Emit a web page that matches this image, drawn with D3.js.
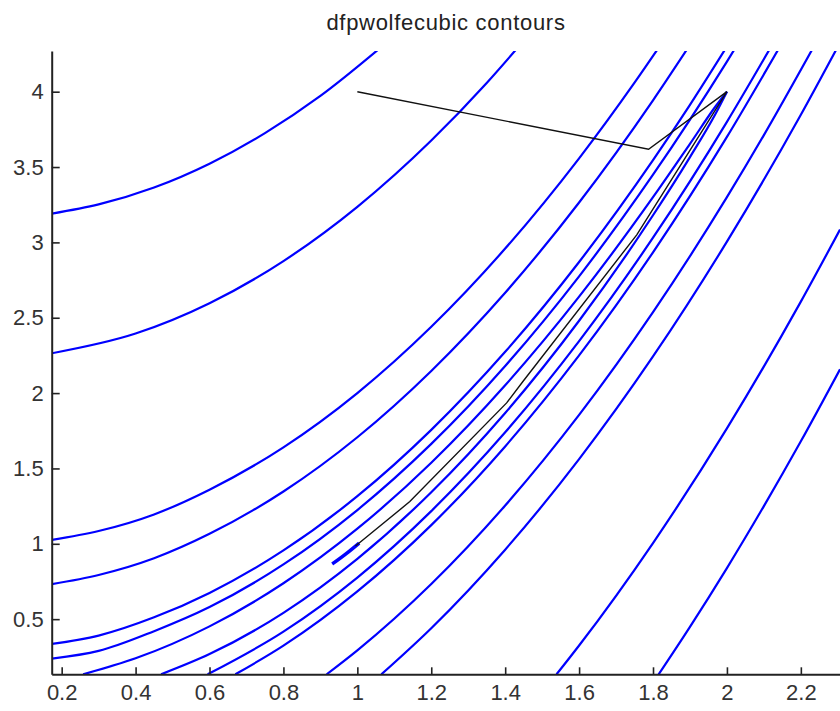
<!DOCTYPE html>
<html>
<head>
<meta charset="utf-8">
<script src="https://cdn.jsdelivr.net/npm/d3@7"></script>
<style>
  body { margin: 0; background: #fff; }
  text { font-family: "Liberation Sans", Arial, sans-serif; }
</style>
</head>
<body>
<svg width="840" height="711"></svg>
<script>
// contour lines, [x, y] in data units
var c1000up = [[0.173,3.191],[0.3,3.252],[0.45,3.364],[0.6,3.522],[0.75,3.725],[0.9,3.972],[1.07,4.307]];
var c500up = [[0.173,2.264],[0.4,2.395],[0.6,2.596],[0.8,2.876],[1.0,3.236],[1.2,3.676],[1.35,4.058],[1.45,4.338]];
var c100up = [[0.173,1.026],[0.3,1.085],[0.45,1.195],[0.6,1.359],[0.8,1.640],[1.0,2.0],[1.2,2.440],[1.4,2.959],[1.6,3.558],[1.75,4.060],[1.83,4.345]];
var c50up = [[0.173,0.732],[0.3,0.793],[0.45,0.904],[0.6,1.066],[0.8,1.347],[1.0,1.707],[1.2,2.147],[1.4,2.666],[1.6,3.265],[1.8,3.943],[1.9,4.311]];
var c10up = [[0.173,0.335],[0.3,0.391],[0.45,0.512],[0.6,0.674],[0.8,0.956],[1.0,1.316],[1.2,1.756],[1.4,2.274],[1.6,2.870],[1.8,3.546],[1.9,3.913],[2.0,4.300]];
var c5up = [[0.173,0.238],[0.3,0.289],[0.45,0.420],[0.6,0.580],[0.8,0.863],[1.0,1.224],[1.2,1.663],[1.4,2.180],[1.6,2.775],[1.8,3.449],[2.0,4.200],[2.03,4.319]];
var c1up = [[0.258,0.134],[0.4,0.240],[0.6,0.452],[0.8,0.738],[1.0,1.100],[1.2,1.538],[1.4,2.052],[1.6,2.640],[1.8,3.300],[1.9,3.654],[1.97,3.905],[2.0,4.0]];
var c1low = [[0.469,0.134],[0.6,0.268],[0.8,0.542],[1.0,0.900],[1.2,1.342],[1.4,1.868],[1.6,2.480],[1.8,3.180],[1.9,3.566],[1.97,3.857],[2.0,4.0]];
var c5low = [[0.595,0.134],[0.8,0.417],[1.0,0.776],[1.2,1.217],[1.4,1.740],[1.6,2.345],[1.8,3.031],[2.0,3.800],[2.12,4.301]];
var c10low = [[0.67,0.134],[0.8,0.324],[1.0,0.684],[1.2,1.124],[1.4,1.646],[1.6,2.250],[1.8,2.934],[2.0,3.700],[2.14,4.285]];
var c50low = [[0.917,0.134],[1.0,0.293],[1.2,0.733],[1.4,1.254],[1.6,1.855],[1.8,2.537],[2.0,3.300],[2.1,3.712],[2.23,4.277]];
var c100low = [[1.065,0.134],[1.2,0.440],[1.4,0.961],[1.6,1.562],[1.8,2.243],[2.0,3.005],[2.2,3.847],[2.306,4.326]];
var c500low = [[1.539,0.134],[1.6,0.325],[1.8,1.005],[2.0,1.766],[2.2,2.607],[2.306,3.085]];
var c1000low = [[1.815,0.133],[1.9,0.449],[2.0,0.839],[2.1,1.250],[2.2,1.680],[2.306,2.158]];
var cMin = [[0.932,0.866],[0.97,0.935],[1.005,1.005]];

// search path
var pathPts = [[1.0,4.0],[1.788,3.618],[2.0,4.0],[1.756,3.05],[1.449,2.08],[1.404,1.935],[1.142,1.28],[0.995,0.985]];

var xTicks = [0.2,0.4,0.6,0.8,1,1.2,1.4,1.6,1.8,2,2.2];
var yTicks = [0.5,1,1.5,2,2.5,3,3.5,4];
var title = 'dfpwolfecubic contours';

var contours = [c1000up,c500up,c100up,c50up,c10up,c5up,c1up,c1low,c5low,c10low,c50low,c100low,c500low,c1000low];

var svg = d3.select('svg');
var x = d3.scaleLinear().domain([0.173,2.333]).range([51.7,850]);
var y = d3.scaleLinear().domain([0.134,4.27]).range([674.3,51]);

svg.append('clipPath').attr('id','clip')
  .append('rect').attr('x',52).attr('y',51).attr('width',800).attr('height',623);

var line = d3.line().x(function(d){ return x(d[0]); }).y(function(d){ return y(d[1]); })
  .curve(d3.curveMonotoneX);

var g = svg.append('g').attr('clip-path','url(#clip)');
g.selectAll('path.ct').data(contours).enter().append('path')
  .attr('class','ct')
  .attr('d',line)
  .attr('fill','none').attr('stroke','#0000ff').attr('stroke-width',2.2);

g.append('path').attr('d',line(cMin))
  .attr('fill','none').attr('stroke','#0000ff').attr('stroke-width',3.5);

g.append('path').attr('d',d3.line().x(function(d){ return x(d[0]); }).y(function(d){ return y(d[1]); })(pathPts))
  .attr('fill','none').attr('stroke','#111').attr('stroke-width',1.4);

// axes, ticks inside like matlab
var xAxis = d3.axisBottom(x).tickValues(xTicks).tickFormat(d3.format('')).tickSizeInner(-7).tickSizeOuter(0).tickPadding(10);
var yAxis = d3.axisLeft(y).tickValues(yTicks).tickFormat(d3.format('')).tickSizeInner(-8).tickSizeOuter(0).tickPadding(8);

var gx = svg.append('g').attr('transform','translate(0,674.3)').call(xAxis);
var gy = svg.append('g').attr('transform','translate(51.7,0)').call(yAxis);
[gx,gy].forEach(function(a){
  a.select('.domain').attr('stroke','#222').attr('stroke-width',2);
  a.selectAll('.tick line').attr('stroke','#222').attr('stroke-width',1.6);
  a.selectAll('text').attr('font-size',22).attr('fill','#333')
    .attr('font-family','"Liberation Sans", Arial, sans-serif');
});

svg.append('text').attr('x',446).attr('y',30).attr('text-anchor','middle')
  .attr('font-size',22).attr('letter-spacing',0.7).attr('fill','#222').text(title);
</script>
</body>
</html>
